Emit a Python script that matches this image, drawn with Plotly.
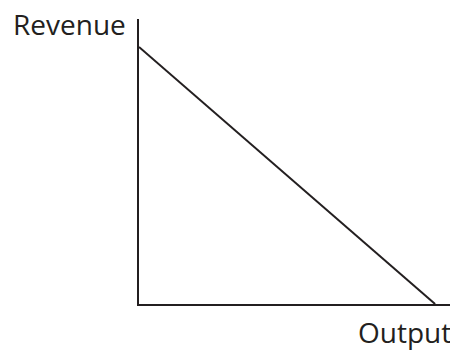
import plotly.graph_objects as go

# revenue line from the revenue intercept down to the output intercept
output = [0, 94.3]
revenue = [90.2, 0]

ink = "#231f20"

fig = go.Figure()
fig.add_trace(go.Scatter(x=output, y=revenue, mode="lines",
                         line=dict(color=ink, width=2), hoverinfo="skip"))

axis_style = dict(showline=True, linecolor=ink, linewidth=2, showgrid=False,
                  zeroline=False, showticklabels=False, ticks="", fixedrange=True)
fig.update_xaxes(range=[0, 100], **axis_style)
fig.update_yaxes(range=[0, 100], **axis_style)

fig.add_annotation(text="Revenue", xref="paper", yref="paper", x=-0.035, y=0.982,
                   xanchor="right", yanchor="middle", showarrow=False,
                   font=dict(family="Open Sans", size=28, color=ink))
fig.add_annotation(text="Output", xref="paper", yref="paper", x=0.847, y=-0.099,
                   xanchor="center", yanchor="middle", showarrow=False,
                   font=dict(family="Open Sans", size=28, color=ink))

fig.update_layout(width=458, height=352, showlegend=False,
                  margin=dict(l=131, r=13, t=11, b=56),
                  plot_bgcolor="white", paper_bgcolor="white")
fig.write_html("out.html")
